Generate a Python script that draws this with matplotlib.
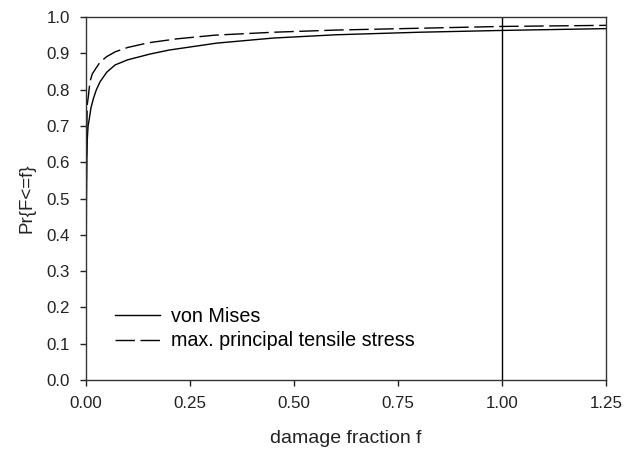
import matplotlib
matplotlib.use("Agg")
import matplotlib.pyplot as plt

plt.rcParams['font.family'] = ['Liberation Sans', 'DejaVu Sans']

# cumulative distribution of damage fraction, von Mises criterion
f_vm = [0, 0.0005, 0.001, 0.002, 0.003, 0.005, 0.008, 0.012, 0.018, 0.025, 0.034,
        0.05, 0.07, 0.1, 0.154, 0.2, 0.314, 0.45, 0.6, 0.8, 1.0, 1.25]
p_vm = [0, 0.30, 0.48, 0.60, 0.66, 0.70, 0.72, 0.75, 0.776, 0.80, 0.822,
        0.848, 0.868, 0.882, 0.898, 0.909, 0.928, 0.942, 0.951, 0.958, 0.963, 0.968]

# max. principal tensile stress criterion
f_mp = [0, 0.0005, 0.001, 0.002, 0.003, 0.006, 0.0096, 0.015, 0.024, 0.034, 0.05,
        0.07, 0.1, 0.15, 0.22, 0.31, 0.45, 0.6, 0.8, 1.0, 1.25]
p_mp = [0, 0.40, 0.58, 0.70, 0.758, 0.785, 0.822, 0.843, 0.859, 0.876, 0.891,
        0.904, 0.916, 0.929, 0.940, 0.950, 0.958, 0.964, 0.969, 0.974, 0.977]

xticks = [0.0, 0.25, 0.5, 0.75, 1.0, 1.25]
yticks = [0.0, 0.1, 0.2, 0.3, 0.4, 0.5, 0.6, 0.7, 0.8, 0.9, 1.0]

fig = plt.figure(figsize=(6.3, 4.51), dpi=100)
ax = fig.add_axes([0.1365, 0.1574, 0.8255, 0.8049])

ax.plot(f_vm, p_vm, color='black', lw=1.0, label='von Mises')
ax.plot(f_mp, p_mp, color='black', lw=1.0, dashes=(14, 4),
        label='max. principal tensile stress')
ax.axvline(1.0, color='black', lw=1.0)

ax.set_xlim(0, 1.25)
ax.set_ylim(0, 1.0)
ax.set_xticks(xticks)
ax.set_xticklabels(['%.2f' % v for v in xticks])
ax.set_yticks(yticks)
ax.set_yticklabels(['%.1f' % v for v in yticks])
ax.tick_params(direction='out', length=4.5, width=1, labelsize=12.2,
               colors='#222222', pad=7, top=False, right=False)
for s in ax.spines.values():
    s.set_color('#333333')
    s.set_linewidth(1.0)

ax.set_xlabel('damage fraction f', fontsize=14, color='#222222', labelpad=14)
ax.set_ylabel('Pr{F<=f}', fontsize=13.5, color='#222222', labelpad=8)

leg = ax.legend(loc='center left', bbox_to_anchor=(0.056, 0.142), frameon=False,
                fontsize=14.2, handlelength=2.3, handletextpad=0.55,
                labelspacing=0.3, borderpad=0, borderaxespad=0)

fig.savefig('out.png', dpi=100)
